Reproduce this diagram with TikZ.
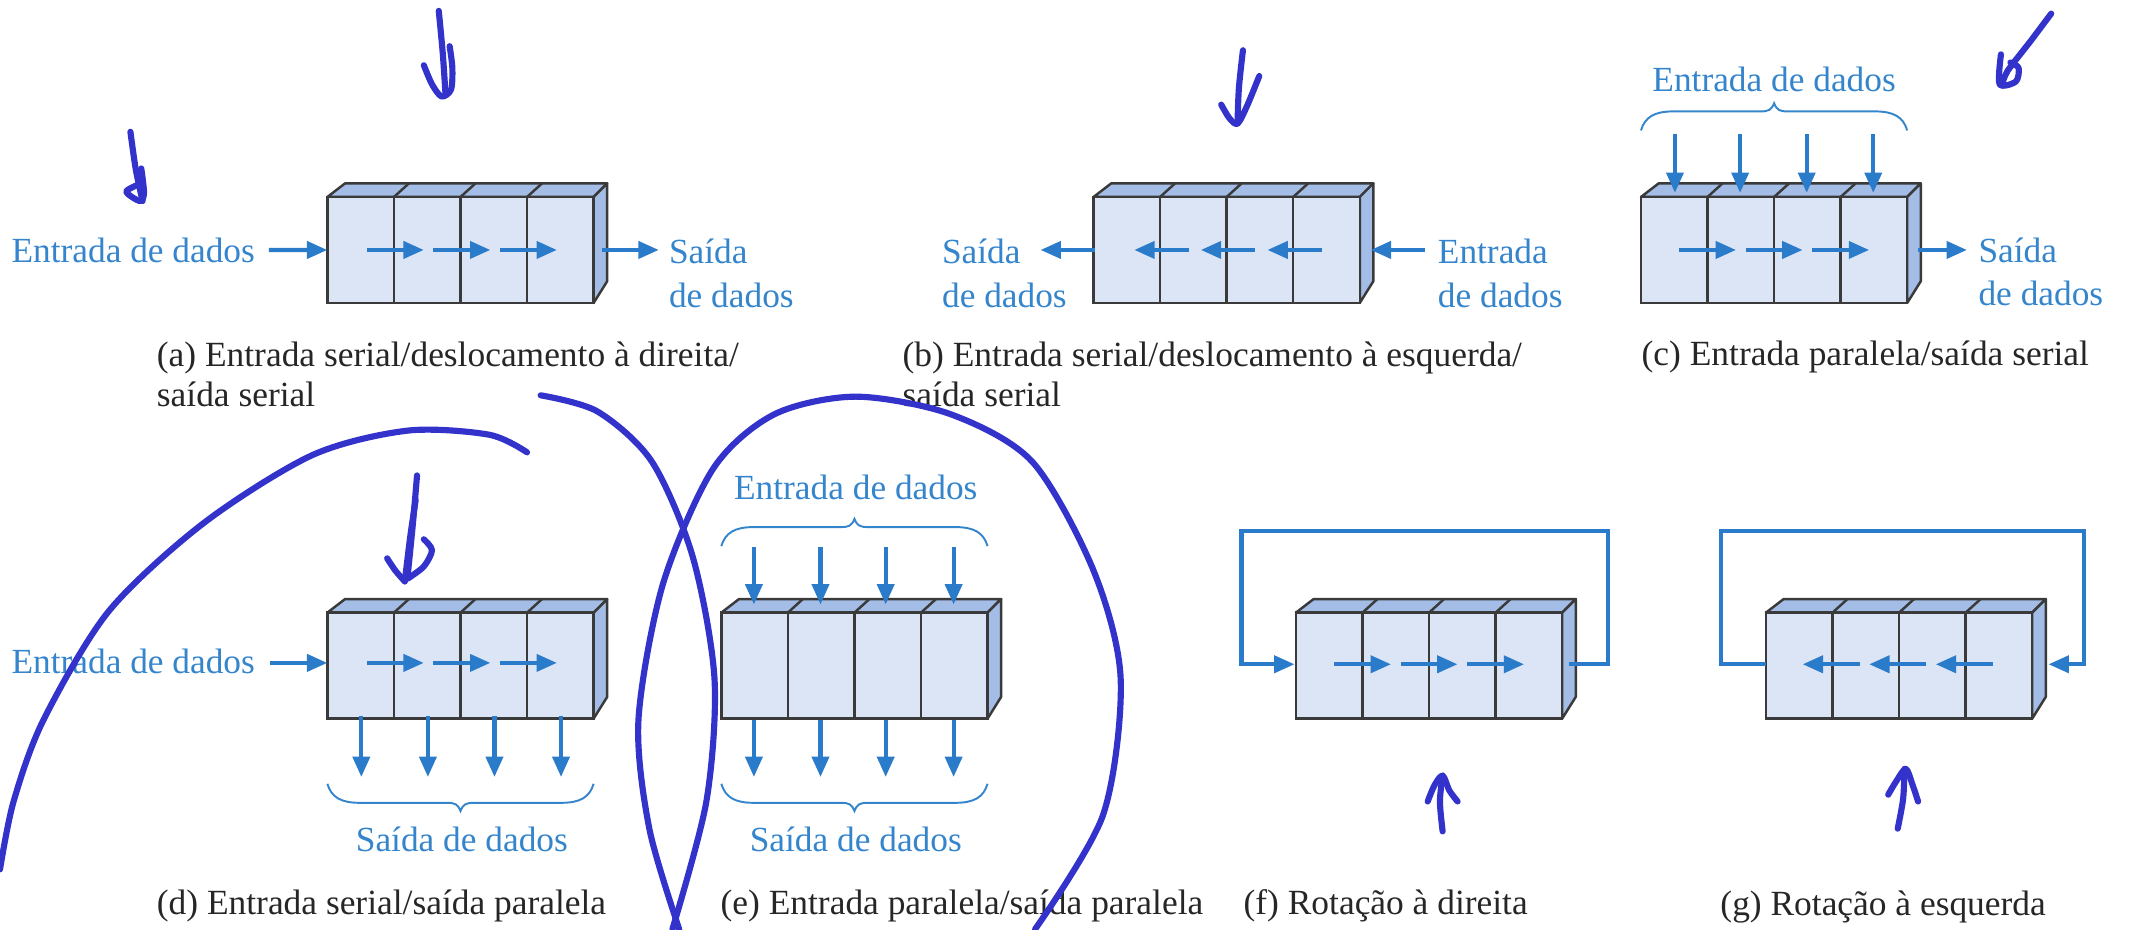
\documentclass[tikz,border=0pt]{standalone}
\usepackage{fontspec}
\setmainfont{Liberation Serif}
\usetikzlibrary{arrows.meta}
\definecolor{flow}{HTML}{2B7BCB}
\definecolor{labelblue}{HTML}{3585CC}
\definecolor{cellfill}{HTML}{DCE5F6}
\definecolor{facefill}{HTML}{A3BDE6}
\definecolor{edge}{HTML}{3A3A3A}
\definecolor{pen}{HTML}{3333CC}
\tikzset{
  cell/.style={draw=edge, fill=cellfill, line width=.7pt, inner sep=0pt, outer sep=0pt,
    anchor=north west, minimum width=.6656cm, minimum height=1.0596cm},
  face/.style={draw=edge, fill=facefill, line width=.7pt, line join=round},
  bus/.style={draw=flow, line width=1.2pt, -{Triangle[length=5.8pt,width=4.8pt]}},
  bracket/.style={draw=labelblue, line width=.55pt},
  bluetext/.style={text=labelblue, anchor=base west, inner sep=0pt, font=\fontsize{10.05}{12}\selectfont},
  bluemid/.style={text=labelblue, anchor=base, inner sep=0pt, font=\fontsize{10.05}{12}\selectfont},
  caption/.style={text=black!85, anchor=base west, inner sep=0pt, font=\fontsize{10.07}{12}\selectfont},
  hand/.style={draw=pen, line width=1.75pt, line cap=round, line join=round}
}
\newcommand{\regbox}[3]{
  \begin{scope}[shift={(#2,#3)}]
    \draw[face] (0,0) -- (13,-10) -- (206,-10) -- (196,0) -- cycle;
    \draw[face] (196,0) -- (206,-10) -- (206,62) -- (196,78) -- cycle;
    \draw[face] (49,0) -- (60,-10) (98,0) -- (109,-10) (147,0) -- (158,-10);
    \node[cell] (#11) at (0,0) {};
    \node[cell] (#12) at (49,0) {};
    \node[cell] (#13) at (98,0) {};
    \node[cell] (#14) at (147,0) {};
  \end{scope}
}
\newcommand{\regbrace}[3]{
  \draw[bracket, shift={(#1,#2)}, yscale=#3] (0,0) .. controls (3,-10) and (10,-14) .. (24,-14)
    -- (88,-14) .. controls (94,-14) and (96,-15) .. (98,-20)
    .. controls (100,-15) and (102,-14) .. (108,-14) -- (172,-14)
    .. controls (186,-14) and (193,-10) .. (196,0);
}
\begin{document}
\begin{tikzpicture}[x=.013584cm, y=-.013584cm]
  \useasboundingbox (0,0) rectangle (1568,684);

  \regbox{a}{241}{145}
  \regbox{b}{805}{145}
  \regbox{c}{1208}{145}
  \regbox{d}{241}{451}
  \regbox{e}{531}{451}
  \regbox{f}{954}{451}
  \regbox{g}{1300}{451}

  \node[bluetext] (atin) at (8,193) {Entrada de dados};
  \node[bluetext] (atout) at (492,194) {Saída};
  \node[bluetext] (atout2) at (492,226) {de dados};
  \node[caption] (acap) at (115,270) {(a) Entrada serial/deslocamento à direita/};
  \node[caption] (acap2) at (115,299) {saída serial};
  \node[bluetext] (btout) at (693,194) {Saída};
  \node[bluetext] (btout2) at (693,226) {de dados};
  \node[bluetext] (btin) at (1058,194) {Entrada};
  \node[bluetext] (btin2) at (1058,226) {de dados};
  \node[caption] (bcap) at (664,270) {(b) Entrada serial/deslocamento à esquerda/};
  \node[caption] (bcap2) at (664,299) {saída serial};
  \node[bluemid] (ctin) at (1306,67) {Entrada de dados};
  \node[bluetext] (ctout) at (1456,193) {Saída};
  \node[bluetext] (ctout2) at (1456,225) {de dados};
  \node[caption] (ccap) at (1208,269) {(c) Entrada paralela/saída serial};
  \node[bluetext] (dtin) at (8,496) {Entrada de dados};
  \node[bluemid] (dtout) at (340,627) {Saída de dados};
  \node[caption] (dcap) at (115,673) {(d) Entrada serial/saída paralela};
  \node[bluemid] (etin) at (630,368) {Entrada de dados};
  \node[bluemid] (etout) at (630,627) {Saída de dados};
  \node[caption] (ecap) at (530,673) {(e) Entrada paralela/saída paralela};
  \node[caption] (fcap) at (915,673) {(f) Rotação à direita};
  \node[caption] (gcap) at (1266,674) {(g) Rotação à esquerda};

  \regbrace{1208}{96}{1}
  \regbrace{241}{577}{-1}
  \regbrace{531}{402}{1}
  \regbrace{531}{577}{-1}

  \draw
    (198,184) coordinate (ain)
    (270,184) coordinate (as1) (312,184) coordinate (ae1)
    (319,184) coordinate (as2) (361,184) coordinate (ae2)
    (368,184) coordinate (as3) (410,184) coordinate (ae3)
    (443,184) coordinate (aos) (485,184) coordinate (aoe)
    (1049,184) coordinate (bin) (1009,184) coordinate (bie)
    (973,184) coordinate (bs1) (933,184) coordinate (be1)
    (924,184) coordinate (bs2) (884,184) coordinate (be2)
    (875,184) coordinate (bs3) (835,184) coordinate (be3)
    (806,184) coordinate (bos) (766,184) coordinate (boe)
    (1236,184) coordinate (cs1) (1278,184) coordinate (ce1)
    (1285,184) coordinate (cs2) (1327,184) coordinate (ce2)
    (1334,184) coordinate (cs3) (1376,184) coordinate (ce3)
    (1412,184) coordinate (cos) (1448,184) coordinate (coe)
    (1233,99) coordinate (ct1) (1233,142) coordinate (cb1)
    (1281,99) coordinate (ct2) (1281,142) coordinate (cb2)
    (1330,99) coordinate (ct3) (1330,142) coordinate (cb3)
    (1379,99) coordinate (ct4) (1379,142) coordinate (cb4)
    (199,488) coordinate (din)
    (270,488) coordinate (ds1) (312,488) coordinate (de1)
    (319,488) coordinate (ds2) (361,488) coordinate (de2)
    (368,488) coordinate (ds3) (410,488) coordinate (de3)
    (266,527) coordinate (dt1) (266,572) coordinate (db1)
    (315,527) coordinate (dt2) (315,572) coordinate (db2)
    (364,527) coordinate (dt3) (364,572) coordinate (db3)
    (413,527) coordinate (dt4) (413,572) coordinate (db4)
    (555,403) coordinate (ett1) (555,445) coordinate (etb1)
    (604,403) coordinate (ett2) (604,445) coordinate (etb2)
    (652,403) coordinate (ett3) (652,445) coordinate (etb3)
    (702,403) coordinate (ett4) (702,445) coordinate (etb4)
    (555,530) coordinate (et1) (555,572) coordinate (eb1)
    (604,530) coordinate (et2) (604,572) coordinate (eb2)
    (652,530) coordinate (et3) (652,572) coordinate (eb3)
    (702,530) coordinate (et4) (702,572) coordinate (eb4)
    (982,489) coordinate (fs1) (1024,489) coordinate (fe1)
    (1031,489) coordinate (fs2) (1073,489) coordinate (fe2)
    (1080,489) coordinate (fs3) (1122,489) coordinate (fe3)
    (1155,489) coordinate (fo) (1184,489) coordinate (fr)
    (1184,391) coordinate (ftr) (914,391) coordinate (ftl)
    (914,489) coordinate (fl) (953,489) coordinate (fi)
    (1467,489) coordinate (gs1) (1425,489) coordinate (ge1)
    (1418,489) coordinate (gs2) (1376,489) coordinate (ge2)
    (1369,489) coordinate (gs3) (1327,489) coordinate (ge3)
    (1300,489) coordinate (go) (1267,489) coordinate (gl)
    (1267,391) coordinate (gtl) (1534,391) coordinate (gtr)
    (1534,489) coordinate (gr) (1508,489) coordinate (gi);

  \begin{scope}[every path/.append style={bus}]
    \draw (ain) to (a1.west);
    \draw (as1) to (ae1);
    \draw (as2) to (ae2);
    \draw (as3) to (ae3);
    \draw (aos) to (aoe);
    \draw (bin) to (bie);
    \draw (bs1) to (be1);
    \draw (bs2) to (be2);
    \draw (bs3) to (be3);
    \draw (bos) to (boe);
    \draw (cs1) to (ce1);
    \draw (cs2) to (ce2);
    \draw (cs3) to (ce3);
    \draw (cos) to (coe);
    \draw (ct1) to (cb1);
    \draw (ct2) to (cb2);
    \draw (ct3) to (cb3);
    \draw (ct4) to (cb4);
    \draw (din) to (d1.west |- din);
    \draw (ds1) to (de1);
    \draw (ds2) to (de2);
    \draw (ds3) to (de3);
    \draw (dt1) to (db1);
    \draw (dt2) to (db2);
    \draw (dt3) to (db3);
    \draw (dt4) to (db4);
    \draw (ett1) to (etb1);
    \draw (ett2) to (etb2);
    \draw (ett3) to (etb3);
    \draw (ett4) to (etb4);
    \draw (et1) to (eb1);
    \draw (et2) to (eb2);
    \draw (et3) to (eb3);
    \draw (et4) to (eb4);
    \draw (fs1) to (fe1);
    \draw (fs2) to (fe2);
    \draw (fs3) to (fe3);
    \draw (gs1) to (ge1);
    \draw (gs2) to (ge2);
    \draw (gs3) to (ge3);
    \draw (fo) -- (fr) -- (ftr) -- (ftl) -- (fl) -- (fi);
    \draw (go) -- (gl) -- (gtl) -- (gtr) -- (gr) -- (gi);
  \end{scope}

  \draw[hand] plot[smooth] coordinates {(323,8) (326,40) (328,70)};
  \draw[hand] plot[smooth] coordinates {(312,48) (318,62) (325,71) (332,66) (333,50) (331,34)};
  \draw[hand] plot[smooth] coordinates {(96,97) (100,125) (105,148)};
  \draw[hand] plot[smooth] coordinates {(104,124) (106,142) (103,148) (93,141) (104,135)};
  \draw[hand] plot[smooth] coordinates {(915,37) (912,65) (911,91)};
  \draw[hand] plot[smooth] coordinates {(899,77) (905,87) (911,91) (918,78) (927,56)};
  \draw[hand] plot[smooth] coordinates {(1510,10) (1495,30) (1478,52) (1474,62)};
  \draw[hand] plot[smooth] coordinates {(1473,40) (1472,62) (1484,60) (1486,50) (1480,46)};
  \draw[hand] plot[smooth] coordinates {(307,350) (304,385) (300,425)};
  \draw[hand] plot[smooth] coordinates {(306,368) (302,395) (298,428)};
  \draw[hand] plot[smooth] coordinates {(285,411) (291,420) (298,428)};
  \draw[hand] plot[smooth] coordinates {(312,397) (318,405) (312,417) (300,426)};
  \draw[hand] plot[smooth] coordinates {(1062,612) (1060,590) (1062,571)};
  \draw[hand] plot[smooth] coordinates {(1051,590) (1056,578) (1062,571) (1067,582) (1073,590)};
  \draw[hand] plot[smooth] coordinates {(1397,610) (1401,588) (1402,566)};
  \draw[hand] plot[smooth] coordinates {(1390,585) (1396,575) (1403,566) (1408,578) (1412,590)};
  \draw[hand] plot[smooth] coordinates {(388,333) (360,320) (300,317) (230,335) (150,385) (80,450) (32,530) (10,590) (0,640)};
  \draw[hand] plot[smooth] coordinates {(398,291) (440,303) (480,340) (510,410) (526,500) (520,590) (495,684)};
  \draw[hand] plot[smooth] coordinates {(500,684) (478,610) (470,530) (488,430) (525,345) (570,305) (630,292) (700,305) (760,340) (805,420) (825,500) (812,600) (762,684)};
\end{tikzpicture}
\end{document}
